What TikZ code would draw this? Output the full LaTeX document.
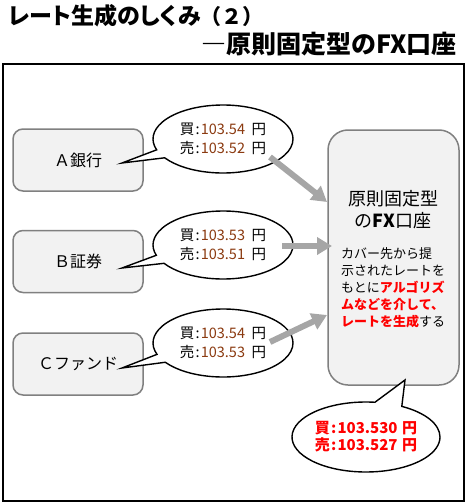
\documentclass[tikz,border=0pt]{standalone}
\usepackage{fontspec}
\setmainfont{Noto Sans CJK JP}
\usetikzlibrary{shapes.callouts,arrows.meta}
\definecolor{boxfill}{HTML}{F2F2F2}
\definecolor{boxline}{HTML}{808080}
\definecolor{arrowgray}{HTML}{A6A6A6}
\definecolor{numcol}{HTML}{8B3A10}
\definecolor{hired}{HTML}{FF0000}
\newcommand{\gap}{\hspace{0.45em}}
\newcommand{\cln}{\hspace{1.2pt}:\hspace{1.2pt}}
\tikzset{
  srcbox/.style={draw=boxline, fill=boxfill, line width=1.5pt, rounded corners=10pt,
    minimum width=130pt, minimum height=62pt, inner sep=0pt, font=\fontsize{16}{18}\selectfont},
  bubble/.style={ellipse callout, draw=black, fill=white, line width=1.4pt,
    minimum width=140pt, minimum height=68pt, inner sep=0pt, align=left,
    font=\fontsize{14.5}{19}\selectfont, callout pointer arc=15},
  flow/.style={draw=arrowgray, line width=6pt, -{Triangle[width=17pt,length=15pt]}},
  bigbox/.style={draw=boxline, fill=boxfill, line width=1.5pt, rounded corners=20pt,
    minimum width=131pt, minimum height=255pt, inner sep=0pt},
}
\begin{document}
\begin{tikzpicture}[x=1pt,y=1pt]
\useasboundingbox (0,0) rectangle (471,-503);
% titles
\node[anchor=west, inner sep=0pt, font=\bfseries\fontsize{23}{26}\selectfont] (t1) at (8,-16) {{\addfontfeature{RawFeature=+palt}レート生成のしくみ}{\fontsize{21}{24}\selectfont（２）}};
\node[anchor=east, inner sep=0pt, font=\bfseries\fontsize{25}{28}\selectfont] (t2) at (457,-44) {―原則固定型のFX口座};
% frame
\draw[line width=1.5pt] (3,-64) rectangle (464,-501);
% source boxes
\node[srcbox] (a) at (78,-160) {Ａ銀行};
\node[srcbox] (b) at (78,-261.5) {Ｂ証券};
\node[srcbox] (c) at (78,-364) {Ｃファンド};
% big box
\node[bigbox] (fx) at (393.5,-257.5) {};
\node[align=center, inner sep=0pt, font=\fontsize{18}{22}\selectfont] (fxt) at (393,-210) {原則固定型\\の\textbf{FX}口座};
\node[anchor=north west, align=left, inner sep=0pt, font=\fontsize{13}{17}\selectfont] (body) at (341,-247)
  {カバー先から提\\示されたレートを\\もとに\textcolor{hired}{\textbf{アルゴリズ}}\\\textcolor{hired}{\textbf{ムなどを介して、}}\\\textcolor{hired}{\textbf{レートを生成}}する};
% callouts
\coordinate (ta) at (122,-163);
\coordinate (tb) at (122,-268);
\coordinate (tc) at (122,-368);
\coordinate (tz) at (405,-380);
\node[bubble, callout absolute pointer={(ta)}] (ba) at (223,-139) {買\cln\textcolor{numcol}{103.54}\gap 円\\売\cln\textcolor{numcol}{103.52}\gap 円};
\node[bubble, callout absolute pointer={(tb)}] (bb) at (223,-245) {買\cln\textcolor{numcol}{103.53}\gap 円\\売\cln\textcolor{numcol}{103.51}\gap 円};
\node[bubble, callout absolute pointer={(tc)}] (bc) at (223,-343) {買\cln\textcolor{numcol}{103.54}\gap 円\\売\cln\textcolor{numcol}{103.53}\gap 円};
\node[bubble, callout absolute pointer={(tz)}, callout pointer arc=22, minimum width=148pt, minimum height=70pt,
  text=hired, font=\bfseries\fontsize{15}{17}\selectfont] (bz) at (366,-437) {買\cln 103.530\hspace{0.3em}円\\売\cln 103.527\hspace{0.3em}円};
% arrows
\coordinate (a1s) at (270,-157); \coordinate (a1e) at (327,-202);
\coordinate (a2s) at (282,-246); \coordinate (a2e) at (332,-246);
\coordinate (a3s) at (270,-342); \coordinate (a3e) at (327,-315);
\draw[flow] (a1s) -- (a1e);
\draw[flow] (a2s) -- (a2e);
\draw[flow] (a3s) -- (a3e);
\end{tikzpicture}
\end{document}
